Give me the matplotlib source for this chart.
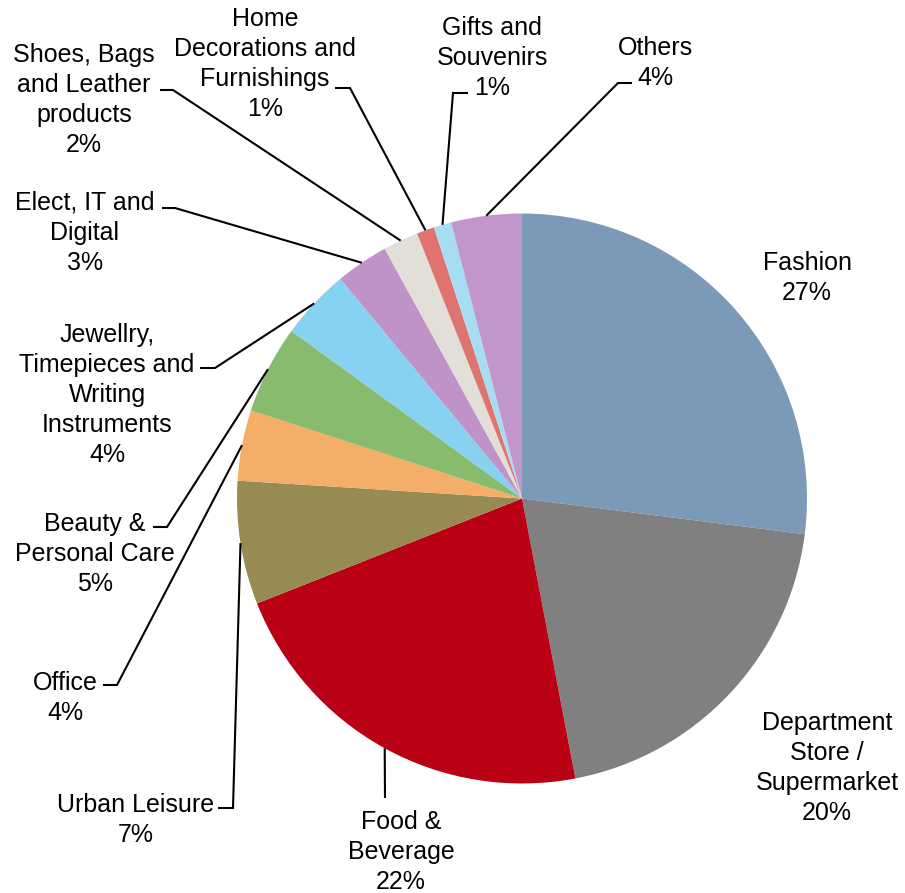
import matplotlib
matplotlib.use("Agg")
import matplotlib.pyplot as plt
import numpy as np

# ---- data ----
categories = ["Fashion", "Department\nStore /\nSupermarket", "Food &\nBeverage",
              "Urban Leisure", "Office", "Beauty &\nPersonal Care",
              "Jewellry,\nTimepieces and\nWriting\nInstruments",
              "Elect, IT and\nDigital", "Shoes, Bags\nand Leather\nproducts",
              "Home\nDecorations and\nFurnishings", "Gifts and\nSouvenirs", "Others"]
values = [27, 20, 22, 7, 4, 5, 4, 3, 2, 1, 1, 4]
colors = ["#7A9AB7", "#808080", "#BA0015", "#968B52", "#F5AE67", "#89BB6F",
          "#88D2F1", "#BF93C7", "#E2DED8", "#DE7370", "#A7DDF3", "#C296CA"]

# ---- layout (pixel positions in the 905x893 canvas) ----
W, H = 905, 893
CX, CY, R = 522, 498.5, 285
TEXT_DY = 3  # small downward shift of label blocks
label_pos = [(807, 275), (827, 765), (401, 849), (136, 817), (65, 695), (95, 551),
             (107, 392), (85, 230), (84, 97), (265, 61), (492, 55), (655, 60)]
# (elbow, stub end) for leader lines; None = no line
leaders = [None, None, ((385, 798), (385, 798)), ((233, 808), (218, 808)),
           ((117, 685), (103, 685)), ((167, 527), (153, 527)),
           ((215, 368), (200, 368)), ((175, 208), (162, 208)),
           ((173, 90), (160, 90)), ((350, 88), (335, 88)),
           ((453, 93), (468, 93)), ((618, 83), (632, 83))]

def X(px):
    return (px - CX) / R

def Y(py):
    return (CY - py) / R

plt.rcParams['font.family'] = ['Liberation Sans', 'DejaVu Sans']

fig = plt.figure(figsize=(W / 100, H / 100), dpi=100)
ax = fig.add_axes([0, 0, 1, 1])
wedges, _ = ax.pie(values, colors=colors, startangle=90, counterclock=False,
                   radius=1, center=(0, 0), wedgeprops=dict(linewidth=0))
ax.set_xlim(X(0), X(W))
ax.set_ylim(Y(H), Y(0))
ax.set_aspect('equal', adjustable='datalim')
ax.axis('off')

total = sum(values)
cum = np.cumsum([0] + values)
for i, (cat, v) in enumerate(zip(categories, values)):
    pct = f"{round(100 * v / total)}%"
    lx, ly = label_pos[i]
    ax.text(X(lx), Y(ly + TEXT_DY), f"{cat}\n{pct}", ha='center', va='center',
            fontsize=18, linespacing=1.32, color='black')
    if leaders[i] is not None:
        mid = (cum[i] + v / 2) / total
        ang = np.deg2rad(90 - 360 * mid)
        sx, sy = np.cos(ang), np.sin(ang)
        (ex, ey), (tx, ty) = leaders[i]
        ax.plot([sx, X(ex), X(tx)], [sy, Y(ey), Y(ty)], color='black', lw=1.5,
                solid_capstyle='butt', solid_joinstyle='miter')

fig.savefig("out.png", dpi=100)
